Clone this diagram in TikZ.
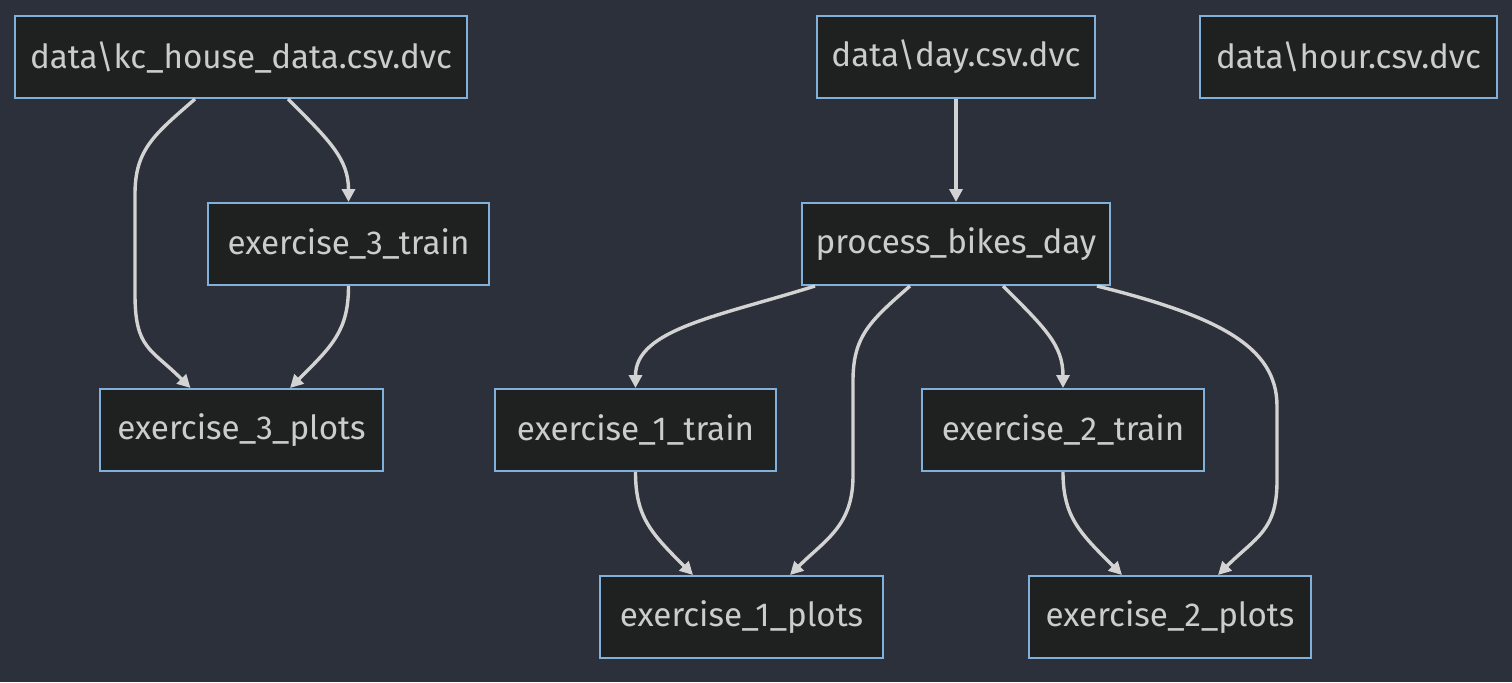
\documentclass[tikz,border=0pt]{standalone}
\usepackage{fontspec}
\setmainfont{Fira Sans}
\usetikzlibrary{arrows.meta,calc}
\definecolor{bgc}{HTML}{2B303B}
\definecolor{boxc}{HTML}{1F2020}
\definecolor{rimc}{HTML}{81B1DB}
\definecolor{linec}{HTML}{D3D3D3}
\definecolor{txtc}{HTML}{CCCCCC}

\begin{document}
\begin{tikzpicture}[x=0.5pt, y=-0.5pt,
  stage/.style={draw=rimc, fill=boxc, line width=1pt, text=txtc, minimum height=41pt,
    inner sep=0pt, font=\fontsize{16.6}{19}\selectfont},
  flow/.style={draw=linec, line width=1.7pt, -{Triangle[length=6.5pt,width=6.5pt]}}]
\fill[bgc] (0,0) rectangle (1512,682);
\useasboundingbox (0,0) rectangle (1512,682);
% sources
\node[stage, minimum width=226pt] (kc) at (241,57) {data\textbackslash kc\_house\_data.csv.dvc};
\node[stage, minimum width=139pt] (day) at (956,57) {data\textbackslash day.csv.dvc};
\node[stage, minimum width=148.5pt] (hour) at (1348.5,57) {data\textbackslash hour.csv.dvc};
% stages
\node[stage, minimum width=140.5pt] (ex3train) at (348.5,244) {exercise\_3\_train};
\node[stage, minimum width=154pt] (process) at (956,244) {process\_bikes\_day};
\node[stage, minimum width=141.5pt] (ex3plots) at (241.5,430) {exercise\_3\_plots};
\node[stage, minimum width=140.5pt] (ex1train) at (635.5,430) {exercise\_1\_train};
\node[stage, minimum width=141pt] (ex2train) at (1063,430) {exercise\_2\_train};
\node[stage, minimum width=141.5pt] (ex1plots) at (741.5,617) {exercise\_1\_plots};
\node[stage, minimum width=141pt] (ex2plots) at (1170,617) {exercise\_2\_plots};
% connectors
\draw[flow] ($(kc.south)+(-46,0)$) .. controls +(-40,35) and +(0,-45) .. ++(-60,95)
  -- ++(0,100) .. controls +(0,55) and +(-40,-40) .. ($(ex3plots.north)+(-51,0)$);
\draw[flow] ($(kc.south)+(47,0)$) .. controls +(42,42) and +(0,-43) .. (ex3train.north);
\draw[flow] (ex3train.south) .. controls +(0,45) and +(42,-42) .. ($(ex3plots.north)+(48.5,0)$);
\draw[flow] (day) -- (process);
\draw[flow] ($(process.south)+(-141,0)$) .. controls +(-95,30) and +(0,-59) .. (ex1train.north);
\draw[flow] ($(process.south)+(-46,0)$) .. controls +(-40,35) and +(0,-45) .. ++(-57,95)
  -- ++(0,95) .. controls +(0,50) and +(35,-35) .. ($(ex1plots.north)+(48.5,0)$);
\draw[flow] ($(process.south)+(47,0)$) .. controls +(42,42) and +(0,-43) .. (ex2train.north);
\draw[flow] ($(process.south)+(141,0)$) .. controls +(120,30) and +(0,-60) .. ++(180,120)
  -- ++(0,75) .. controls +(0,50) and +(38,-38) .. ($(ex2plots.north)+(48,0)$);
\draw[flow] (ex1train.south) .. controls +(0,45) and +(-42,-42) .. ($(ex1plots.north)+(-48.5,0)$);
\draw[flow] (ex2train.south) .. controls +(0,45) and +(-42,-42) .. ($(ex2plots.north)+(-48,0)$);
\end{tikzpicture}
\end{document}
